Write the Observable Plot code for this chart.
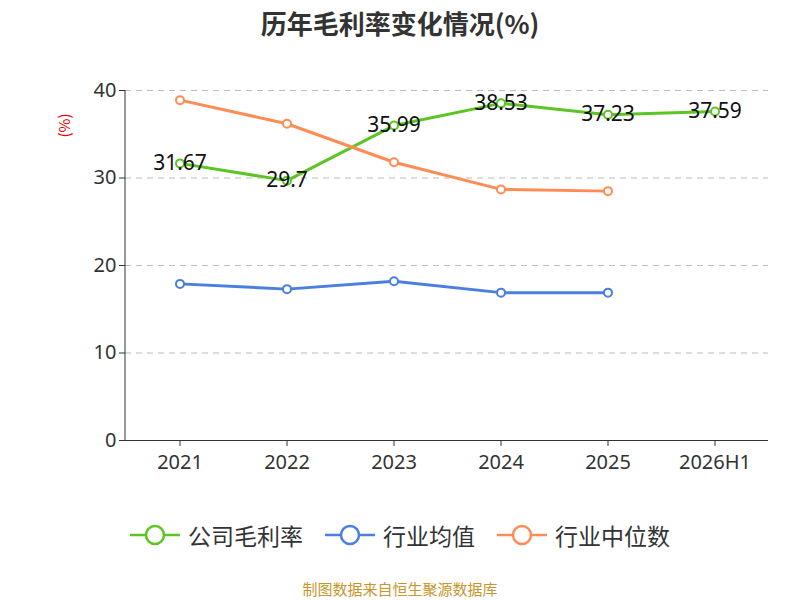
<!DOCTYPE html>
<html><head><meta charset="utf-8">
<script src="https://cdn.jsdelivr.net/npm/d3@7"></script>
<script src="https://cdn.jsdelivr.net/npm/@observablehq/plot@0.6"></script>
<style>
body{margin:0;width:800px;height:600px;font-family:"Noto Sans CJK SC","Noto Sans",sans-serif;background:#fff;position:relative;overflow:hidden}
#title{position:absolute;top:4px;width:800px;text-align:center;font-size:26px;font-weight:bold;color:#333}
#chart{position:absolute;top:50px;left:0}
#legend{position:absolute;top:518px;width:800px;display:flex;justify-content:center;gap:22px;font-size:23px;color:#333}
#legend span{display:flex;align-items:center;gap:8px}
#foot{position:absolute;top:578px;width:800px;text-align:center;font-size:15px;color:#c8962c}
#ylab{position:absolute;left:52px;top:115px;color:#e00;font-size:15px;transform:rotate(-90deg)}
</style></head><body>
<div id="title">历年毛利率变化情况(%)</div>
<div id="chart"></div>
<div id="ylab">(%)</div>
<div id="legend"></div>
<div id="foot">制图数据来自恒生聚源数据库</div>
<script>
const years=["2021","2022","2023","2024","2025","2026H1"];
const company=[31.67,29.7,35.99,38.53,37.23,37.59];
const industryMean=[17.9,17.3,18.2,16.9,16.9];
const industryMedian=[38.9,36.2,31.8,28.7,28.5];
const yTicks=[0,10,20,30,40];
const series=[["公司毛利率",company,"#5cc524"],["行业均值",industryMean,"#4a7fdf"],["行业中位数",industryMedian,"#ff8c55"]];
const data=series.flatMap(([name,vals,c])=>vals.map((v,i)=>({name,year:years[i],v,c})));
const comp=data.filter(d=>d.name==="公司毛利率");
const svg=Plot.plot({width:800,height:450,marginTop:40,marginBottom:60,marginLeft:125,marginRight:32,
 style:{fontSize:"20px",fontFamily:"Noto Sans, sans-serif",color:"#333"},
 x:{type:"band",domain:years,padding:0,label:null},
 y:{domain:[0,40],ticks:yTicks,label:null},
 marks:[
  Plot.gridY(yTicks.slice(1),{stroke:"#bbb",strokeOpacity:1,strokeDasharray:"6,5"}),
  Plot.axisY({ticks:yTicks,tickSize:6,fontSize:20}),
  Plot.axisX({tickSize:6,fontSize:20,tickPadding:8}),
  Plot.ruleY([0],{stroke:"#333"}),
  Plot.ruleX([0],{x:()=>null}),
  ...series.map(([name,vals,c])=>Plot.line(data.filter(d=>d.name===name),{x:"year",y:"v",stroke:c,strokeWidth:3})),
  ...series.map(([name,vals,c])=>Plot.dot(data.filter(d=>d.name===name),{x:"year",y:"v",stroke:c,fill:"#fff",r:4,strokeWidth:2})),
  Plot.text(comp,{x:"year",y:"v",text:d=>String(d.v),fontSize:21,fill:"#111"})
 ]});
document.getElementById("chart").appendChild(svg);
// y axis line
const ax=d3.select(svg);
ax.append("line").attr("x1",125).attr("x2",125).attr("y1",40).attr("y2",390).attr("stroke","#333");
const lg=document.getElementById("legend");
series.forEach(([n,v,c])=>{lg.innerHTML+=`<span><svg width="50" height="24"><line x1="0" x2="50" y1="12" y2="12" stroke="${c}" stroke-width="2.5"/><circle cx="25" cy="12" r="9" fill="#fff" stroke="${c}" stroke-width="2.5"/></svg>${n}</span>`});
</script></body></html>
